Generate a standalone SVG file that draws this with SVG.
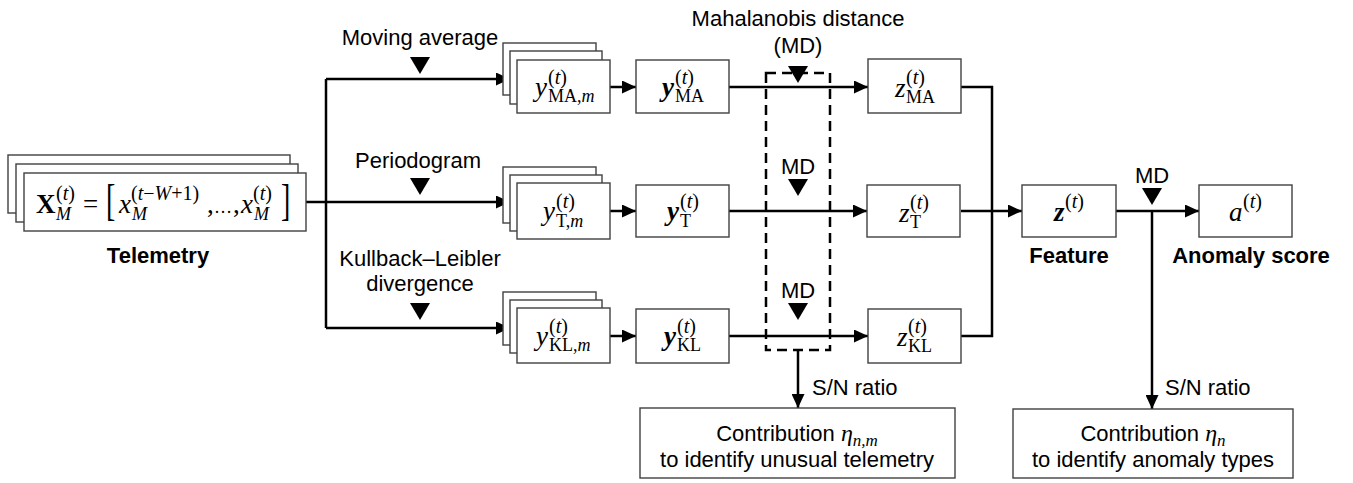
<svg xmlns="http://www.w3.org/2000/svg" width="1353" height="483" viewBox="0 0 1353 483">
  <style>
    .box { fill: #ffffff; stroke: #404040; stroke-width: 1.4; }
    .wire { fill: none; stroke: #000000; stroke-width: 2.5; }
    .dash { fill: none; stroke: #000000; stroke-width: 2.5; stroke-dasharray: 10 6; }
    .tri { fill: #000000; }
    .lbl { font-family: "Liberation Sans", Arial, sans-serif; font-size: 22px; fill: #000000; }
    .bold { font-family: "Liberation Sans", Arial, sans-serif; font-size: 22px; font-weight: bold; fill: #000000; }
    .m { font-family: "Liberation Serif", "DejaVu Serif", serif; fill: #000000; }
    .mi { font-style: italic; }
    .mb { font-weight: bold; }
    .big { font-size: 27px; }
    .sup { font-size: 20px; }
    .sub { font-size: 18px; }
  </style>
  <defs>
    <marker id="arrow" markerUnits="userSpaceOnUse" markerWidth="15" markerHeight="13" refX="14" refY="6.5" orient="auto">
      <path d="M0,0 L14,6.5 L0,13 z" fill="#000000"/>
    </marker>
  </defs>

  <rect width="1353" height="483" fill="#ffffff"/>

  <!-- connectors -->
  <g id="connectors">
    <path class="wire" d="M306,202 H326"/>
    <path class="wire" d="M326,79 V328"/>
    <path class="wire" d="M326,79 H510" marker-end="url(#arrow)"/>
    <path class="wire" d="M326,202 H510" marker-end="url(#arrow)"/>
    <path class="wire" d="M326,328 H510" marker-end="url(#arrow)"/>
    <path class="wire" d="M610,87 H636" marker-end="url(#arrow)"/>
    <path class="wire" d="M610,211 H636" marker-end="url(#arrow)"/>
    <path class="wire" d="M610,336 H636" marker-end="url(#arrow)"/>
    <path class="wire" d="M729,87 H868" marker-end="url(#arrow)"/>
    <path class="wire" d="M729,211 H867" marker-end="url(#arrow)"/>
    <path class="wire" d="M729,336 H868" marker-end="url(#arrow)"/>
    <path class="wire" d="M961,87 H992 V336 H961"/>
    <path class="wire" d="M961,211 H1022" marker-end="url(#arrow)"/>
    <path class="wire" d="M1116,211 H1199" marker-end="url(#arrow)"/>
    <path class="wire" d="M1152,211 V409" marker-end="url(#arrow)"/>
    <path class="wire" d="M798,350 V408" marker-end="url(#arrow)"/>
  </g>

  <!-- Mahalanobis distance block -->
  <g id="md-block">
    <rect class="dash" x="766" y="73" width="64" height="277"/>
    <text class="lbl" x="798" y="26" text-anchor="middle">Mahalanobis distance</text>
    <text class="lbl" x="798" y="53" text-anchor="middle">(MD)</text>
    <polygon class="tri" points="788,66 808,66 798,83"/>
    <text class="lbl" x="798" y="174" text-anchor="middle">MD</text>
    <polygon class="tri" points="788,179 808,179 798,196"/>
    <text class="lbl" x="798" y="298" text-anchor="middle">MD</text>
    <polygon class="tri" points="788,303 808,303 798,320"/>
    <text class="lbl" x="812" y="395">S/N ratio</text>
  </g>

  <!-- feature extraction labels -->
  <g id="label-ma">
    <text class="lbl" x="420" y="45" text-anchor="middle">Moving average</text>
    <polygon class="tri" points="410,57 430,57 420,74"/>
  </g>
  <g id="label-periodogram">
    <text class="lbl" x="418" y="168" text-anchor="middle">Periodogram</text>
    <polygon class="tri" points="410,178 430,178 420,195"/>
  </g>
  <g id="label-kl">
    <text class="lbl" x="420" y="266" text-anchor="middle">Kullback–Leibler</text>
    <text class="lbl" x="420" y="291" text-anchor="middle">divergence</text>
    <polygon class="tri" points="410,303 430,303 420,320"/>
  </g>

  <!-- telemetry input -->
  <g id="telemetry">
    <rect class="box" x="8" y="155" width="282" height="58"/>
    <rect class="box" x="16" y="164" width="282" height="58"/>
    <rect class="box" x="24" y="173" width="282" height="58"/>
    <text class="m big mb" x="36" y="213">X</text>
    <text class="m sup" x="56" y="200">(<tspan class="mi">t</tspan>)</text>
    <text class="m sub mi" x="56" y="220">M</text>
    <text class="m big" x="83" y="213">=</text>
    <text class="m" font-size="28" transform="translate(106,215) scale(1,1.55)">[</text>
    <text class="m big mi" x="119" y="213">x</text>
    <text class="m sup" x="131" y="200">(<tspan class="mi">t</tspan>−<tspan class="mi">W</tspan>+1)</text>
    <text class="m sub mi" x="132" y="220">M</text>
    <text class="m big" x="207" y="213">,</text>
    <text class="m" font-size="18" x="214" y="213">…</text>
    <text class="m big" x="233" y="213">,</text>
    <text class="m big mi" x="241" y="213">x</text>
    <text class="m sup" x="253" y="200">(<tspan class="mi">t</tspan>)</text>
    <text class="m sub mi" x="254" y="220">M</text>
    <text class="m" font-size="28" transform="translate(281,215) scale(1,1.55)">]</text>
    <text class="bold" x="158" y="263" text-anchor="middle">Telemetry</text>
  </g>

  <!-- per-telemetry features -->
  <g id="y-ma-m">
    <rect class="box" x="503" y="43" width="93" height="52"/>
    <rect class="box" x="510" y="51" width="92" height="53"/>
    <rect class="box" x="517" y="60" width="93" height="53"/>
    <text class="m big mi" x="535" y="96">y</text>
    <text class="m sup" x="548" y="84">(<tspan class="mi">t</tspan>)</text>
    <text class="m sub" x="548" y="102">MA,<tspan class="mi">m</tspan></text>
  </g>
  <g id="y-t-m">
    <rect class="box" x="503" y="167" width="93" height="56"/>
    <rect class="box" x="510" y="175" width="92" height="56"/>
    <rect class="box" x="517" y="183" width="93" height="56"/>
    <text class="m big mi" x="543" y="220">y</text>
    <text class="m sup" x="556" y="208">(<tspan class="mi">t</tspan>)</text>
    <text class="m sub" x="556" y="227">T,<tspan class="mi">m</tspan></text>
  </g>
  <g id="y-kl-m">
    <rect class="box" x="503" y="292" width="93" height="53"/>
    <rect class="box" x="510" y="300" width="92" height="53"/>
    <rect class="box" x="517" y="308" width="93" height="55"/>
    <text class="m big mi" x="536" y="345">y</text>
    <text class="m sup" x="549" y="333">(<tspan class="mi">t</tspan>)</text>
    <text class="m sub" x="549" y="351">KL,<tspan class="mi">m</tspan></text>
  </g>

  <!-- aggregated feature vectors -->
  <g id="y-ma">
    <rect class="box" x="636" y="60" width="93" height="53"/>
    <text class="m big mi mb" x="662" y="96">y</text>
    <text class="m sup" x="675" y="84">(<tspan class="mi">t</tspan>)</text>
    <text class="m sub" x="675" y="102">MA</text>
  </g>
  <g id="y-t">
    <rect class="box" x="636" y="185" width="93" height="52"/>
    <text class="m big mi mb" x="667" y="220">y</text>
    <text class="m sup" x="680" y="208">(<tspan class="mi">t</tspan>)</text>
    <text class="m sub" x="680" y="227">T</text>
  </g>
  <g id="y-kl">
    <rect class="box" x="636" y="309" width="93" height="54"/>
    <text class="m big mi mb" x="664" y="345">y</text>
    <text class="m sup" x="677" y="333">(<tspan class="mi">t</tspan>)</text>
    <text class="m sub" x="677" y="351">KL</text>
  </g>

  <!-- distances -->
  <g id="z-ma">
    <rect class="box" x="868" y="59" width="93" height="54"/>
    <text class="m big mi" x="895" y="97">z</text>
    <text class="m sup" x="906" y="84">(<tspan class="mi">t</tspan>)</text>
    <text class="m sub" x="906" y="103">MA</text>
  </g>
  <g id="z-t">
    <rect class="box" x="867" y="185" width="93" height="52"/>
    <text class="m big mi" x="899" y="222">z</text>
    <text class="m sup" x="910" y="209">(<tspan class="mi">t</tspan>)</text>
    <text class="m sub" x="910" y="228">T</text>
  </g>
  <g id="z-kl">
    <rect class="box" x="868" y="309" width="93" height="54"/>
    <text class="m big mi" x="897" y="346">z</text>
    <text class="m sup" x="908" y="333">(<tspan class="mi">t</tspan>)</text>
    <text class="m sub" x="908" y="352">KL</text>
  </g>

  <!-- combined feature -->
  <g id="feature">
    <rect class="box" x="1022" y="185" width="94" height="52"/>
    <text class="m big mi mb" x="1054" y="221">z</text>
    <text class="m sup" x="1065" y="208">(<tspan class="mi">t</tspan>)</text>
    <text class="bold" x="1069" y="263" text-anchor="middle">Feature</text>
  </g>

  <!-- anomaly score -->
  <g id="anomaly">
    <text class="lbl" x="1152" y="183" text-anchor="middle">MD</text>
    <polygon class="tri" points="1142,188 1162,188 1152,205"/>
    <rect class="box" x="1199" y="185" width="93" height="52"/>
    <text class="m big mi" x="1229" y="221">a</text>
    <text class="m sup" x="1243" y="208">(<tspan class="mi">t</tspan>)</text>
    <text class="bold" x="1251" y="263" text-anchor="middle">Anomaly score</text>
    <text class="lbl" x="1165" y="395">S/N ratio</text>
  </g>

  <!-- contribution outputs -->
  <g id="contrib-telemetry">
    <rect class="box" x="640" y="408" width="315" height="70"/>
    <text class="lbl" x="797" y="441" text-anchor="middle">Contribution <tspan class="m mi" font-size="24">η</tspan><tspan class="m mi" font-size="17" dy="5">n,m</tspan></text>
    <text class="lbl" x="797" y="467" text-anchor="middle">to identify unusual telemetry</text>
  </g>
  <g id="contrib-anomaly">
    <rect class="box" x="1013" y="409" width="280" height="69"/>
    <text class="lbl" x="1153" y="441" text-anchor="middle">Contribution <tspan class="m mi" font-size="24">η</tspan><tspan class="m mi" font-size="17" dy="5">n</tspan></text>
    <text class="lbl" x="1153" y="467" text-anchor="middle">to identify anomaly types</text>
  </g>
</svg>
